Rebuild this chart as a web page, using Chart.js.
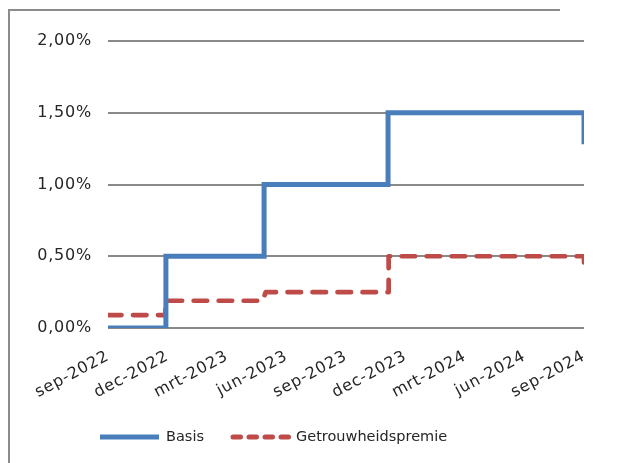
<!DOCTYPE html>
<html><head><meta charset="utf-8">
<script src="https://cdn.jsdelivr.net/npm/chart.js@4/dist/chart.umd.min.js"></script>
<style>
html,body{margin:0;padding:0;background:#fff;overflow:hidden;}
canvas{display:block;}
</style></head><body>
<canvas id="c" width="619" height="463"></canvas>
<script>
const xTickLabels = ['sep-2022','dec-2022','mrt-2023','jun-2023','sep-2023','dec-2023','mrt-2024','jun-2024','sep-2024'];
const seriesNames = ['Basis','Getrouwheidspremie'];
// x = months since 1 sep 2022, y = rate in %
const basisMonths = [0, 2.92, 2.92, 7.87, 7.87, 14.12, 14.12, 24, 24];
const basisRates  = [0, 0, 0.5, 0.5, 1.0, 1.0, 1.5, 1.5, 1.28];
const premieMonths = [0, 2.9, 2.9, 7.8, 7.95, 14.15, 14.15, 24, 24];
const premieRates  = [0.09, 0.09, 0.19, 0.19, 0.25, 0.25, 0.5, 0.5, 0.42];

const BLUE = '#4a7ebb', RED = '#be4b48', TEXT = '#262626', GRID = '#898989';
const FONT = 'DejaVu Sans';

function pts(xs, ys){ return xs.map((x,i)=>({x:x, y:ys[i]})); }

const framePlugin = {
  id:'frame',
  beforeDraw(chart){
    const ctx = chart.ctx;
    ctx.save();
    ctx.fillStyle = '#8c8c8c';
    ctx.fillRect(8, 9, 2, 454);
    ctx.fillRect(8, 9, 552, 2);
    ctx.restore();
    ctx.letterSpacing = '0.8px';
  }
};

const legendPlugin = {
  id:'customLegend',
  afterDraw(chart){
    const ctx = chart.ctx;
    const y = 437;
    const items = [
      {ds:chart.data.datasets[0], x0:100, x1:159, tx:166, dash:[]},
      {ds:chart.data.datasets[1], x0:233, x1:291, tx:296, dash:[7.5,8.5]}
    ];
    ctx.save();
    ctx.letterSpacing = '0px';
    items.forEach(it=>{
      ctx.beginPath();
      ctx.strokeStyle = it.ds.borderColor;
      ctx.lineWidth = 5;
      ctx.lineCap = it.dash.length ? 'round' : 'butt';
      ctx.setLineDash(it.dash);
      ctx.moveTo(it.x0, y); ctx.lineTo(it.x1, y);
      ctx.stroke();
      ctx.setLineDash([]);
      ctx.fillStyle = TEXT;
      ctx.font = '14.5px "' + FONT + '"';
      ctx.textBaseline = 'middle';
      ctx.textAlign = 'left';
      ctx.fillText(it.ds.label, it.tx, y);
    });
    ctx.restore();
  }
};

new Chart(document.getElementById('c'), {
  type:'line',
  data:{
    datasets:[
      {label:seriesNames[0], data:pts(basisMonths, basisRates), borderColor:BLUE, borderWidth:5,
       pointRadius:0, tension:0, borderJoinStyle:'miter', borderCapStyle:'butt', fill:false},
      {label:seriesNames[1], data:pts(premieMonths, premieRates), borderColor:RED, borderWidth:4.7,
       borderDash:[13.5,11.5], borderCapStyle:'round', borderJoinStyle:'round',
       pointRadius:0, tension:0, fill:false}
    ]
  },
  options:{
    responsive:false, animation:false, devicePixelRatio:1,
    layout:{padding:{left:0, right:35, top:41, bottom:60}},
    plugins:{legend:{display:false}, tooltip:{enabled:false}},
    scales:{
      x:{type:'linear', min:0, max:24,
         grid:{display:false}, border:{display:false},
         ticks:{stepSize:3, autoSkip:false, minRotation:28, maxRotation:28, padding:11,
                color:TEXT, font:{family:FONT, size:16},
                callback:(v)=>xTickLabels[Math.round(v/3)]},
         afterFit:(s)=>{s.height = 75;}},
      y:{min:0, max:2,
         grid:{color:GRID, lineWidth:2, drawTicks:false}, border:{display:false},
         ticks:{stepSize:0.5, padding:16, color:TEXT, font:{family:FONT, size:16},
                callback:(v)=>v.toFixed(2).replace('.',',')+'%'},
         afterFit:(s)=>{s.width = 108;}}
    }
  },
  plugins:[framePlugin, legendPlugin]
});
</script>
</body></html>
